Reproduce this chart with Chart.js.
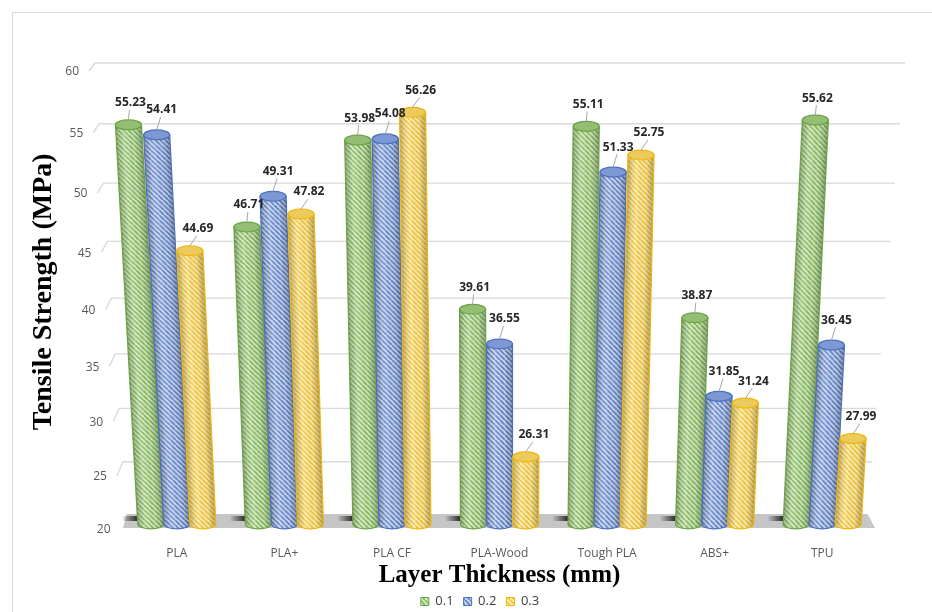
<!DOCTYPE html>
<html>
<head>
<meta charset="utf-8">
<title>Tensile Strength vs Layer Thickness</title>
<script src="https://cdn.jsdelivr.net/npm/chart.js@4.4.1/dist/chart.umd.min.js"></script>
<style>
  html, body { margin: 0; padding: 0; background: #fff; }
</style>
</head>
<body>
<canvas id="myChart" width="932" height="612"></canvas>
<script>
const materials = ['PLA', 'PLA+', 'PLA CF', 'PLA-Wood', 'Tough PLA', 'ABS+', 'TPU'];
const thicknesses = ['0.1', '0.2', '0.3'];
const strength01 = [55.23, 46.71, 53.98, 39.61, 55.11, 38.87, 55.62];
const strength02 = [54.41, 49.31, 54.08, 36.55, 51.33, 31.85, 36.45];
const strength03 = [44.69, 47.82, 56.26, 26.31, 52.75, 31.24, 27.99];
const yTicks = [20, 25, 30, 35, 40, 45, 50, 55, 60];

const DEPTH = 0.09;    // lower values get squeezed a bit, like the 3D view
const LEAN = 0.00016;  // bars tilt away from the middle of the plot
const LIFT = 6;        // cylinders sit slightly behind the front edge

const canvas = document.getElementById('myChart');
const ctx = canvas.getContext('2d');

const palette = [
  { light: '#d9edc8', stripe: '#86bc5e', top: '#93be74', rim: '#6aa444' },
  { light: '#cfdcf3', stripe: '#6587cd', top: '#7d98d2', rim: '#4a70bf' },
  { light: '#fff1b8', stripe: '#f4c63a', top: '#ebcb5e', rim: '#efb60e' },
];

function stripes(bg, fg) {
  const tile = document.createElement('canvas');
  tile.width = tile.height = 5;
  const g = tile.getContext('2d');
  g.fillStyle = bg;
  g.fillRect(0, 0, 5, 5);
  g.strokeStyle = fg;
  g.lineWidth = 1.9;
  g.beginPath();
  for (let k = -1; k <= 1; k++) {
    g.moveTo(k * 5, 0);
    g.lineTo(k * 5 + 5, 5);
  }
  g.stroke();
  return ctx.createPattern(tile, 'repeat');
}

for (let p of palette) {
  p.pattern = stripes(p.light, p.stripe);
}

// value axis with a mild perspective squeeze toward the floor
class PerspectiveScale extends Chart.LinearScale {
  getPixelForValue(value) {
    if (value === null || value === undefined) return NaN;
    const t = (value - this.min) / (this.max - this.min);
    return this.getPixelForDecimal(t / (1 + DEPTH * (1 - t)));
  }
  getValueForPixel(pixel) {
    const f = this.getDecimalForPixel(pixel);
    return this.min + (this.max - this.min) * f * (1 + DEPTH) / (1 + DEPTH * f);
  }
}
PerspectiveScale.id = 'perspective';
PerspectiveScale.defaults = Chart.LinearScale.defaults;
Chart.register(PerspectiveScale);

// back wall position for a front-plane pixel
function wallAt(yF, area) {
  const k = (yF - area.top) / (area.bottom - area.top);
  const yB = yF - (9 + 7 * k);
  const d = yB - (area.top - 9);
  return { yB, left: area.left - 28 + 0.07 * d, right: area.right + 29 - 0.083 * d };
}

function drawCylinder(c, bar, pal, midX, floorY) {
  const rx = bar.width / 2;
  const ry = bar.width * 0.19;
  const yt = bar.y - LIFT;
  const yb = Math.min(bar.base, floorY) - LIFT;
  const h = Math.max(yb - yt, 1);
  const lean = (bar.x - midX) * LEAN * h;
  const xb = bar.x;
  const xt = bar.x + lean;

  c.save();
  c.transform(1, 0, -lean / h, 1, lean * yb / h, 0);
  c.beginPath();
  c.moveTo(xb - rx, yt);
  c.lineTo(xb - rx, yb);
  c.ellipse(xb, yb, rx, ry, 0, Math.PI, 0, true);
  c.lineTo(xb + rx, yt);
  c.closePath();
  c.fillStyle = pal.pattern;
  c.fill();
  const shade = c.createLinearGradient(xb - rx, 0, xb + rx, 0);
  shade.addColorStop(0, 'rgba(0,0,0,0.25)');
  shade.addColorStop(0.35, 'rgba(255,255,255,0.12)');
  shade.addColorStop(0.7, 'rgba(0,0,0,0.03)');
  shade.addColorStop(1, 'rgba(0,0,0,0.28)');
  c.fillStyle = shade;
  c.fill();
  c.strokeStyle = pal.rim;
  c.lineWidth = 1.2;
  c.stroke();
  c.restore();

  c.beginPath();
  c.ellipse(xt, yt, rx, ry, 0, 0, Math.PI * 2);
  c.fillStyle = pal.top;
  c.fill();
  c.strokeStyle = pal.rim;
  c.lineWidth = 1.2;
  c.stroke();

  return { x: xt, y: yt, ry };
}

const cylinders = {
  id: 'cylinders',
  beforeDraw(chart) {
    const c = chart.ctx;
    c.save();
    c.fillStyle = '#fff';
    c.fillRect(0, 0, chart.width, chart.height);
    c.strokeStyle = '#d9d9d9';
    c.lineWidth = 1;
    c.strokeRect(12.5, 12.5, chart.width, chart.height);
    c.restore();
  },
  beforeDatasetDraw() {
    return false;
  },
  beforeDatasetsDraw(chart) {
    const c = chart.ctx;
    const area = chart.chartArea;
    const y = chart.scales.y;
    const midX = (area.left + area.right) / 2;

    c.save();

    // back wall gridlines and value labels
    c.font = '12px "Open Sans"';
    c.fillStyle = '#595959';
    c.textAlign = 'right';
    c.textBaseline = 'middle';
    for (let tick of y.ticks) {
      const yF = y.getPixelForValue(tick.value);
      const w = wallAt(yF, area);
      if (tick.value > y.min) {
        c.beginPath();
        c.moveTo(w.left - 6, yF - 1);
        c.lineTo(w.left, w.yB);
        c.lineTo(w.right, w.yB);
        c.strokeStyle = '#d9d9d9';
        c.lineWidth = 1.3;
        c.stroke();
      }
      c.fillText(String(tick.value), w.left - 16, yF);
    }

    // axis title
    c.save();
    c.translate(44, area.top + (area.bottom - area.top) * 0.48);
    c.rotate(-Math.PI / 2);
    c.textAlign = 'center';
    c.fillStyle = '#000';
    c.font = 'bold 28px "Liberation Serif"';
    c.fillText('Tensile Strength (MPa)', 0, 0);
    c.restore();

    // floor
    const back = wallAt(area.bottom, area);
    c.beginPath();
    c.moveTo(back.left, back.yB);
    c.lineTo(back.right, back.yB);
    c.lineTo(area.right - 1, area.bottom - 2);
    c.lineTo(area.left, area.bottom - 2);
    c.closePath();
    c.fillStyle = '#c6c6c6';
    c.fill();

    const metas = chart.data.datasets.map((ds, i) => chart.getDatasetMeta(i));

    // shadows cast on the floor left of each group
    for (let i = 0; i < materials.length; i++) {
      const first = metas[0].data[i];
      const gl = first.x - first.width / 2;
      const sh = c.createLinearGradient(gl - 16, 0, gl + 6, 0);
      sh.addColorStop(0, 'rgba(20,20,20,0)');
      sh.addColorStop(0.7, 'rgba(20,20,20,0.85)');
      sh.addColorStop(1, 'rgba(20,20,20,0.9)');
      c.fillStyle = sh;
      c.fillRect(gl - 16, back.yB + 2, 22, 5);
    }

    // cylinders, group by group
    const tops = [];
    for (let i = 0; i < materials.length; i++) {
      metas.forEach((meta, d) => {
        const bar = meta.data[i];
        const top = drawCylinder(c, bar, palette[d], midX, area.bottom);
        tops.push({ top, series: d, value: chart.data.datasets[d].data[i] });
      });
    }

    // value labels with leader lines
    c.font = 'bold 12px "Open Sans"';
    c.textAlign = 'center';
    c.textBaseline = 'middle';
    for (let t of tops) {
      const lx = t.top.x + 2 + 3 * t.series;
      const ly = t.top.y - 22 - (t.series === 1 ? 3 : 0);
      c.beginPath();
      c.moveTo(lx - 1, ly + 7);
      c.lineTo(t.top.x, t.top.y - t.top.ry);
      c.strokeStyle = '#a6a6a6';
      c.lineWidth = 1;
      c.stroke();
      c.fillStyle = '#262626';
      c.fillText(t.value.toFixed(2), lx, ly);
    }

    c.restore();
  }
};

const seriesValues = [strength01, strength02, strength03];

new Chart(ctx, {
  type: 'bar',
  data: {
    labels: materials,
    datasets: thicknesses.map((label, d) => ({
      label: label,
      data: seriesValues[d],
      base: yTicks[0],
      backgroundColor: palette[d].pattern,
      borderColor: palette[d].rim,
      borderWidth: 1,
    })),
  },
  options: {
    responsive: false,
    animation: false,
    devicePixelRatio: 1,
    layout: { padding: { top: 72, left: 84, right: 56, bottom: -6 } },
    datasets: { bar: { categoryPercentage: 0.726, barPercentage: 1 } },
    scales: {
      x: {
        grid: { display: false },
        border: { display: false },
        ticks: { color: '#595959', font: { family: 'Open Sans', size: 12 }, padding: 8 },
        title: {
          display: true,
          text: 'Layer Thickness (mm)',
          color: '#000',
          font: { family: 'Liberation Serif', size: 25, weight: 'bold' },
          padding: { top: 4, bottom: -6 },
        },
        afterFit(scale) { scale.height = 55; },
      },
      y: {
        type: 'perspective',
        min: yTicks[0],
        max: yTicks[yTicks.length - 1],
        ticks: { stepSize: yTicks[1] - yTicks[0], display: false },
        grid: { display: false },
        border: { display: false },
        afterFit(scale) { scale.width = 39; },
      },
    },
    plugins: {
      legend: {
        position: 'bottom',
        labels: {
          boxWidth: 8,
          boxHeight: 8,
          color: '#404040',
          font: { family: 'Open Sans', size: 13 },
          padding: 10,
        },
      },
      tooltip: { enabled: false },
    },
  },
  plugins: [cylinders],
});
</script>
</body>
</html>
